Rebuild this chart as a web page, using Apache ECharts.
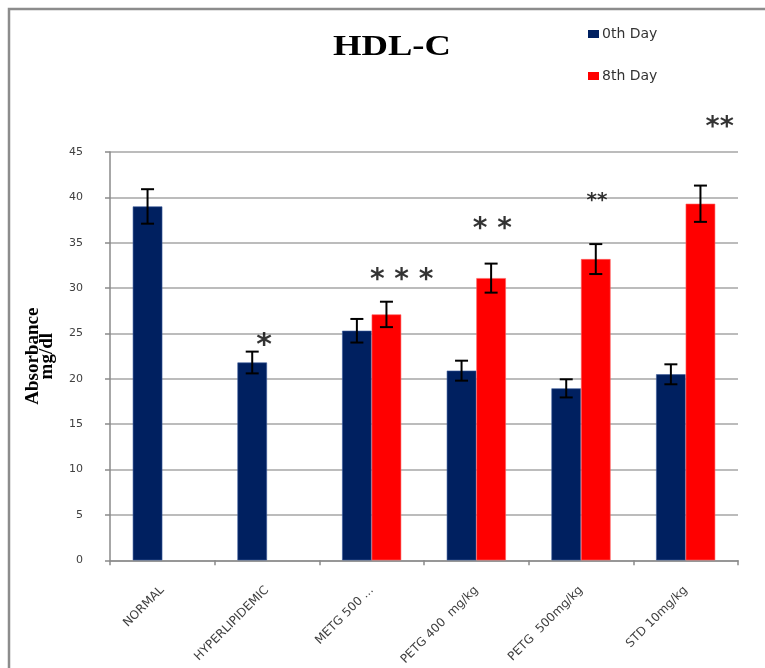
<!DOCTYPE html>
<html>
<head>
<meta charset="utf-8">
<title>HDL-C</title>
<script src="https://cdn.jsdelivr.net/npm/echarts@6/dist/echarts.min.js"></script>
<style>
  html, body { margin: 0; padding: 0; background: #ffffff; }
  #chart { width: 765px; height: 668px; }
</style>
</head>
<body>
<div id="chart"></div>
<script>
// Treatment groups along the x axis
const categories = ['NORMAL', 'HYPERLIPIDEMIC', 'METG 500 ...', 'PETG 400  mg/kg', 'PETG  500mg/kg', 'STD 10mg/kg'];

// HDL-C means (mg/dl) and their error-bar half-widths
const day0Values = [39.0, 21.8, 25.3, 20.9, 18.95, 20.5];
const day0Errors = [1.9, 1.2, 1.3, 1.1, 1.0, 1.1];
const day8Values = [null, null, 27.1, 31.1, 33.2, 39.3];
const day8Errors = [null, null, 1.4, 1.6, 1.65, 2.0];

// Significance marks
const markCategories = ['HYPERLIPIDEMIC', 'METG 500 ...', 'PETG 400  mg/kg', 'PETG  500mg/kg', 'STD 10mg/kg'];
const markValues = [24.5, 31.7, 37.3, 40.2, 48.5];
const markTexts = ['*', '* * *', '* *', '**', '**'];

// Y axis ticks
const yMin = 0, yMax = 45, yStep = 5;

const seriesNames = ['0th Day', '8th Day'];
const colors = ['#002060', '#ff0000'];

// horizontal nudge and font size for each significance mark
const markStyle = [
  { dx: -3, size: 30 },
  { dx: 30, size: 28 },
  { dx: 16, size: 28 },
  { dx: 16, size: 20 },
  { dx: 34, size: 27 }
];

const CATEGORY_GAP = 0.435;

function errorBarSeries(values, errors, side, name) {
  return {
    type: 'custom',
    name: name + ' error',
    z: 5,
    silent: true,
    data: values.map((v, i) => [i, v, errors[i]]),
    encode: { x: 0, y: 1 },
    renderItem: function (params, api) {
      const mean = api.value(1);
      const err = api.value(2);
      if (mean == null || isNaN(mean) || err == null || isNaN(err)) return null;
      const idx = api.value(0);
      const catW = api.size([1, 0])[0];
      const barW = catW * (1 - CATEGORY_GAP) / 2;
      const cx = api.coord([idx, mean])[0] + side * barW / 2;
      const yTop = api.coord([idx, mean + err])[1];
      const yBot = api.coord([idx, mean - err])[1];
      const cap = 6.5;
      const style = { stroke: '#000000', lineWidth: 2 };
      return {
        type: 'group',
        children: [
          { type: 'line', shape: { x1: cx, y1: yTop, x2: cx, y2: yBot }, style: style },
          { type: 'line', shape: { x1: cx - cap, y1: yTop, x2: cx + cap, y2: yTop }, style: style },
          { type: 'line', shape: { x1: cx - cap, y1: yBot, x2: cx + cap, y2: yBot }, style: style }
        ]
      };
    }
  };
}

const chart = echarts.init(document.getElementById('chart'), null, { renderer: 'canvas' });

const option = {
  backgroundColor: '#ffffff',
  animation: false,
  legend: {
    data: seriesNames,
    orient: 'vertical',
    left: 583,
    top: 22,
    itemWidth: 11,
    itemHeight: 8,
    itemGap: 28,
    icon: 'rect',
    itemStyle: { borderWidth: 0 },
    textStyle: {
      fontFamily: '"DejaVu Sans", Verdana, sans-serif',
      fontSize: 14,
      color: '#333333',
      padding: [0, 0, 0, -2]
    }
  },
  graphic: [
    {
      // chart frame
      type: 'rect',
      shape: { x: 9, y: 9, width: 900, height: 900 },
      style: { fill: 'none', stroke: '#8c8c8c', lineWidth: 2.5 },
      silent: true,
      z: -10
    },
    {
      // title, drawn wide
      type: 'text',
      x: 392,
      y: 47,
      scaleX: 1.22,
      style: {
        text: 'HDL-C',
        font: 'bold 30px "Liberation Serif", "DejaVu Serif", serif',
        fill: '#000000',
        textAlign: 'center',
        textVerticalAlign: 'middle'
      },
      silent: true
    }
  ],
  grid: { left: 110, right: 27, top: 152, bottom: 107, containLabel: false },
  xAxis: {
    type: 'category',
    data: categories,
    axisLine: { show: true, lineStyle: { color: '#8a8a8a', width: 1.5 } },
    axisTick: { show: true, length: 5, alignWithLabel: false, lineStyle: { color: '#8a8a8a', width: 1.5 } },
    axisLabel: {
      interval: 0,
      rotate: 45,
      margin: 28,
      fontFamily: '"DejaVu Sans", Verdana, sans-serif',
      fontSize: 12,
      color: '#404040'
    },
    splitLine: { show: false }
  },
  yAxis: {
    type: 'value',
    min: yMin,
    max: yMax,
    interval: yStep,
    name: 'Absorbance\nmg/dl',
    nameLocation: 'middle',
    nameGap: 56,
    nameRotate: 90,
    nameTextStyle: {
      fontFamily: '"Liberation Serif", "DejaVu Serif", serif',
      fontWeight: 'bold',
      fontSize: 19,
      lineHeight: 14,
      color: '#000000'
    },
    axisLine: { show: true, lineStyle: { color: '#8a8a8a', width: 1.5 } },
    axisTick: { show: true, length: 5, lineStyle: { color: '#8a8a8a', width: 1.5 } },
    axisLabel: {
      margin: 27,
      fontFamily: '"DejaVu Sans", Verdana, sans-serif',
      fontSize: 11,
      color: '#404040'
    },
    splitLine: { show: true, lineStyle: { color: '#a6a6a6', width: 1.5 } }
  },
  series: [
    {
      type: 'bar',
      name: seriesNames[0],
      data: day0Values,
      barGap: '0%',
      barCategoryGap: (CATEGORY_GAP * 100) + '%',
      itemStyle: { color: colors[0], borderColor: '#3a5a9a', borderWidth: 0.6 },
      z: 2
    },
    {
      type: 'bar',
      name: seriesNames[1],
      data: day8Values,
      barGap: '0%',
      barCategoryGap: (CATEGORY_GAP * 100) + '%',
      itemStyle: { color: colors[1], borderColor: '#ff6060', borderWidth: 0.6 },
      z: 2
    },
    errorBarSeries(day0Values, day0Errors, -1, seriesNames[0]),
    errorBarSeries(day8Values, day8Errors, 1, seriesNames[1]),
    {
      type: 'scatter',
      name: 'significance',
      symbolSize: 0,
      clip: false,
      silent: true,
      z: 6,
      data: markCategories.map((c, i) => ({
        value: [c, markValues[i]],
        label: {
          show: true,
          position: 'inside',
          formatter: markTexts[i],
          offset: [markStyle[i].dx, markStyle[i].size * 0.28],
          fontSize: markStyle[i].size,
          fontWeight: 'bold',
          fontFamily: '"DejaVu Sans", Arial, sans-serif',
          color: '#000000'
        }
      }))
    }
  ]
};

chart.setOption(option);
</script>
</body>
</html>
